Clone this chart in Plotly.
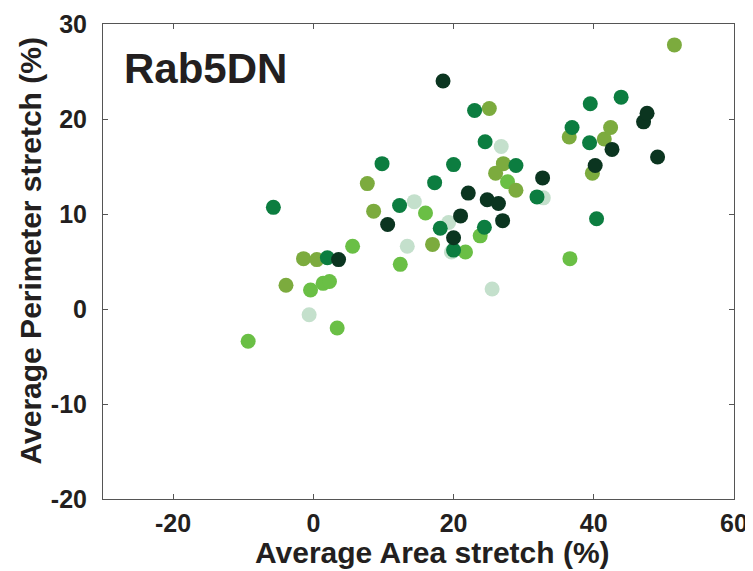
import plotly.graph_objects as go

# Data grouped by colour (group)
pale_x = [-0.6, 13.4, 14.4, 19.3, 19.7, 25.5, 26.8, 32.8]
pale_y = [-0.6, 6.6, 11.3, 9.1, 6.0, 2.1, 17.1, 11.7]

light_x = [-9.3, -0.4, 1.4, 2.3, 3.4, 5.6, 12.4, 16.0, 21.7, 23.8, 27.7, 36.6]
light_y = [-3.4, 2.0, 2.7, 2.9, -2.0, 6.6, 4.7, 10.1, 6.0, 7.7, 13.4, 5.3]

olive_x = [-3.9, -1.4, 0.5, 7.7, 8.6, 17.0, 25.1, 26.0, 27.1, 28.9, 36.5, 39.8, 41.5, 42.4, 51.5]
olive_y = [2.5, 5.3, 5.2, 13.2, 10.3, 6.8, 21.1, 14.3, 15.3, 12.5, 18.1, 14.3, 17.9, 19.1, 27.8]

medium_x = [-5.7, 2.0, 9.8, 12.3, 17.3, 18.1, 20.0, 20.0, 23.0, 24.4, 24.5, 28.9, 31.9, 36.9, 39.4, 39.5, 40.4, 43.9]
medium_y = [10.7, 5.4, 15.3, 10.9, 13.3, 8.5, 15.2, 6.2, 20.9, 8.6, 17.6, 15.1, 11.8, 19.1, 17.5, 21.6, 9.5, 22.3]

dark_x = [3.6, 10.6, 18.5, 20.0, 21.0, 22.1, 24.8, 26.4, 27.0, 32.7, 40.2, 42.6, 47.1, 47.6, 49.1]
dark_y = [5.2, 8.9, 24.0, 7.5, 9.8, 12.2, 11.5, 11.1, 9.3, 13.8, 15.1, 16.8, 19.7, 20.6, 16.0]

groups = [
    (pale_x, pale_y, "#c4e0cc"),
    (light_x, light_y, "#6abf45"),
    (olive_x, olive_y, "#7cab3e"),
    (medium_x, medium_y, "#0c7d40"),
    (dark_x, dark_y, "#0b3520"),
]

x_ticks = [-20, 0, 20, 40, 60]
x_labels = ["-20", "0", "20", "40", "60"]
y_ticks = [-20, -10, 0, 10, 20, 30]
y_labels = ["-20", "-10", "0", "10", "20", "30"]

fig = go.Figure()
for gx, gy, col in groups:
    fig.add_trace(go.Scatter(x=gx, y=gy, mode="markers",
                             marker=dict(size=15, color=col, line=dict(width=0)),
                             showlegend=False))

font_fam = "Liberation Sans, Arial, sans-serif"
txt = "#231f20"
axis_common = dict(showgrid=False, zeroline=False, showline=True, mirror="ticks",
                   linecolor="#555555", linewidth=1, ticks="inside", ticklen=5,
                   tickcolor="#555555", tickwidth=1, automargin=False,
                   tickfont=dict(family=font_fam, size=25, color=txt, weight="bold"))

title_font = dict(family=font_fam, size=30, color=txt, weight="bold")

# page body has an 8px default margin; figure sized to fit the window
fig.update_layout(
    width=745, height=563,
    margin=dict(l=95, r=19, t=16, b=72),
    paper_bgcolor="white", plot_bgcolor="white",
    xaxis=dict(range=[-30, 60], tickvals=x_ticks, ticktext=x_labels,
               ticklabelstandoff=2, **axis_common),
    yaxis=dict(range=[-20, 30], tickvals=y_ticks, ticktext=y_labels,
               ticklabelstandoff=10, **axis_common),
    annotations=[
        dict(text="Rab5DN", x=0.035, y=0.965, xref="paper", yref="paper",
             xanchor="left", yanchor="top", showarrow=False, xshift=-3, yshift=-2,
             font=dict(family=font_fam, size=42, color=txt, weight="bold")),
        dict(text="Average Area stretch (%)", x=0.522, y=0, xref="paper", yref="paper",
             xanchor="center", yanchor="middle", yshift=-53, showarrow=False,
             font=title_font),
        dict(text="Average Perimeter stretch (%)", x=0, y=0.5, xref="paper", yref="paper",
             xanchor="center", yanchor="middle", xshift=-73, yshift=10, textangle=-90,
             showarrow=False, font=title_font),
    ],
)

fig.write_html("out.html")
